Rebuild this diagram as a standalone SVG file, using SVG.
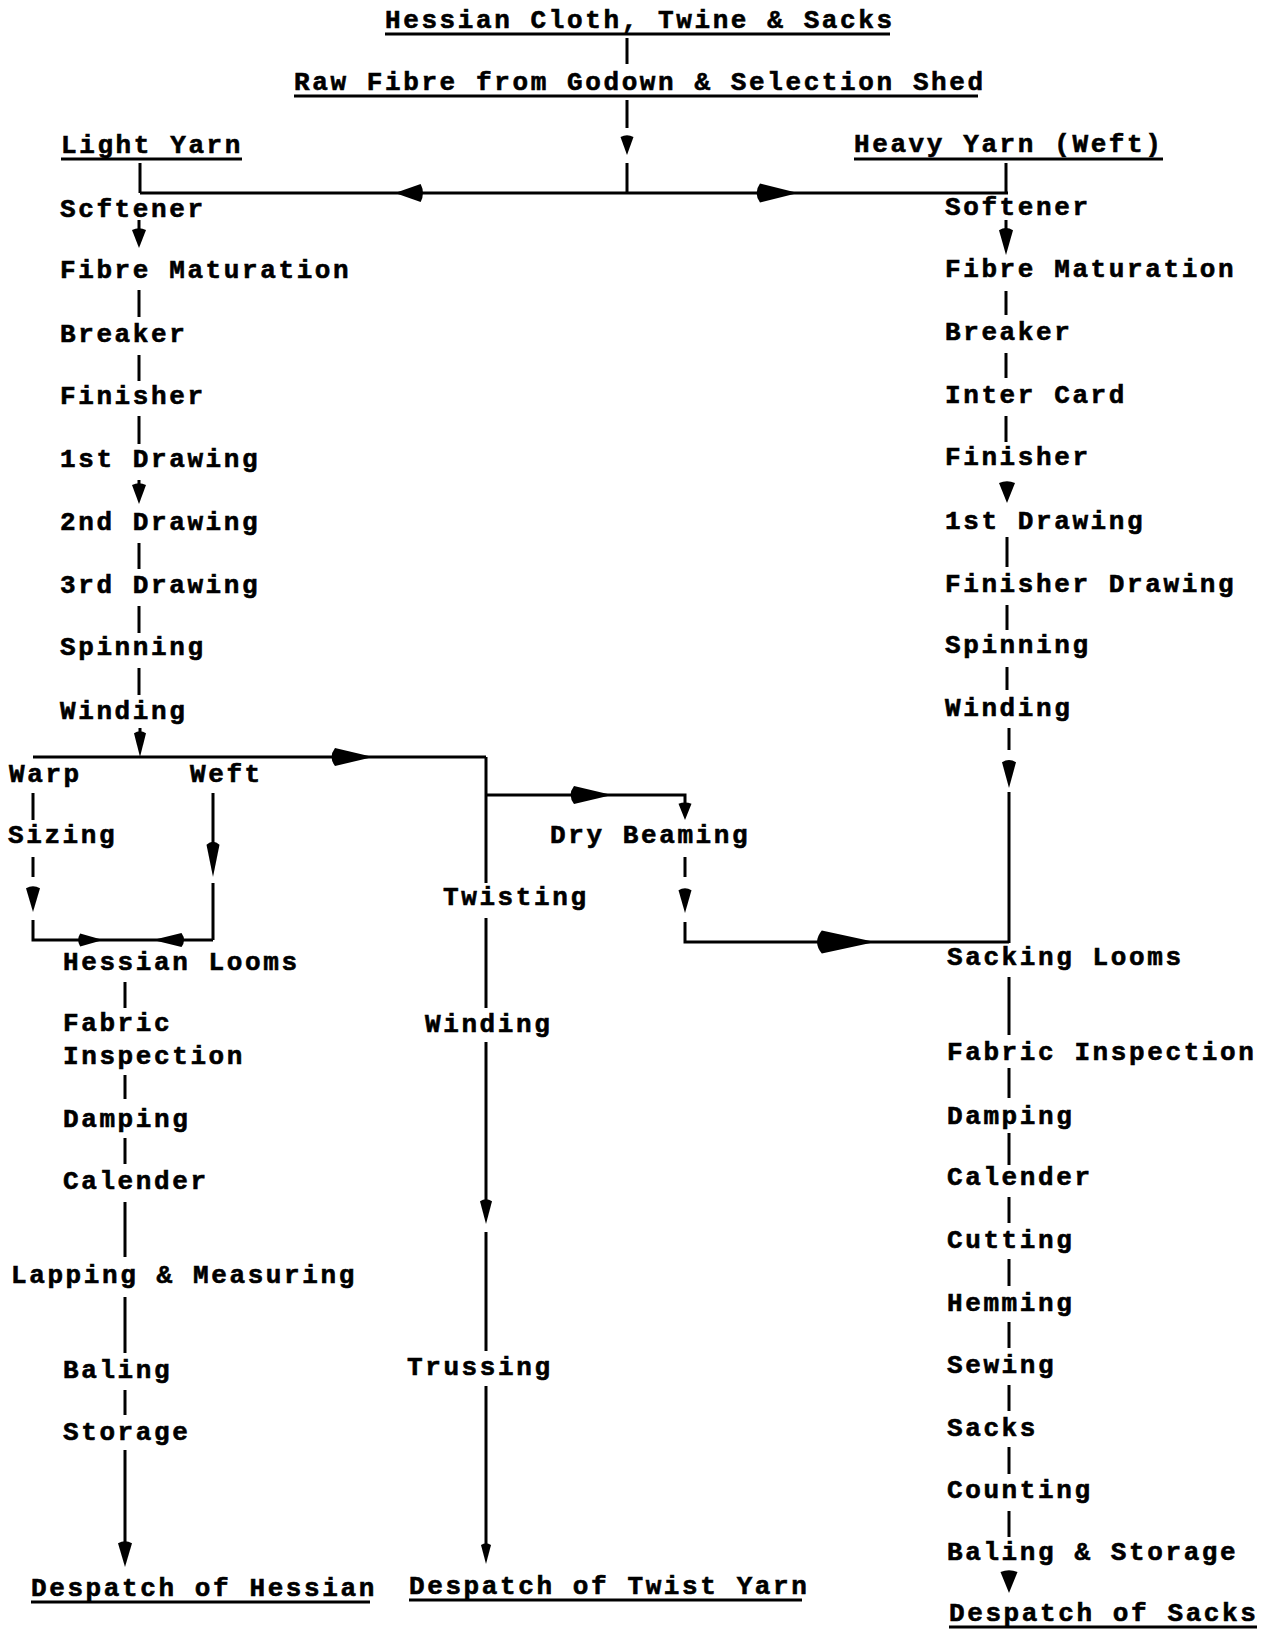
<svg xmlns="http://www.w3.org/2000/svg" xmlns:xlink="http://www.w3.org/1999/xlink" width="1275" height="1630" viewBox="0 0 1275 1630">
<style>
text{font-family:"Liberation Mono","Courier New",monospace;font-weight:bold;font-size:26px;letter-spacing:2.6px;fill:#000;stroke:#000;stroke-width:0.6px}
.ln{stroke:#000;stroke-width:3;fill:none}
.ul{stroke:#000;stroke-width:3}
.ah{fill:#000}
</style>
<defs>
<path id="ah" d="M0,0 L-0.95,-0.5 Q-1.12,0 -0.95,0.5 Z"/>
</defs>
<rect width="1275" height="1630" fill="#fff"/>

<g id="connectors">
<g class="ln">
<path d="M627,38V64M627,100V128M627,163V193M140,193H1008M140,163V193M1006,163V193"/>
<path d="M139,220V232M139,290V317M139,355V381M139,416V444M139,480V488M139,543V569M139,606V633M139,668V695M140,728V737"/>
<path d="M33,757H486M486,757V883M33,793V820M33,857V877M33,920V940H213M213,793V845M213,883V940"/>
<path d="M125,982V1008M125,1075V1099M125,1138V1164M125,1202V1257M125,1297V1353M125,1390V1415M125,1450V1545"/>
<path d="M486,918V1008M486,1042V1204M486,1232V1351M486,1386V1548"/>
<path d="M486,795H685V805M685,857V877M685,922V942H1009"/>
<path d="M1006,220V231M1006,291V315M1006,353V378M1006,416V442M1007,537V567M1007,605V630M1007,667V690M1009,728V750M1009,792V943"/>
<path d="M1009,977V1035M1009,1068V1098M1009,1133V1165M1009,1197V1223M1009,1259V1286M1009,1322V1348M1009,1385V1411M1009,1447V1474M1009,1511V1537"/>
</g>
<g class="ah">
<use xlink:href="#ah" transform="translate(627,155) rotate(90) scale(19,13)"/>
<use xlink:href="#ah" transform="translate(395,193) rotate(180) scale(27,18)"/>
<use xlink:href="#ah" transform="translate(798,193) scale(40,19)"/>
<use xlink:href="#ah" transform="translate(139,248) rotate(90) scale(19,14)"/>
<use xlink:href="#ah" transform="translate(139,504) rotate(90) scale(20,14)"/>
<use xlink:href="#ah" transform="translate(140,757) rotate(90) scale(25,12)"/>
<use xlink:href="#ah" transform="translate(373,757) scale(40,18)"/>
<use xlink:href="#ah" transform="translate(33,912) rotate(90) scale(25,14)"/>
<use xlink:href="#ah" transform="translate(103,940) scale(24,13)"/>
<use xlink:href="#ah" transform="translate(153,940) rotate(180) scale(30,14)"/>
<use xlink:href="#ah" transform="translate(213,877) rotate(90) scale(34,13)"/>
<use xlink:href="#ah" transform="translate(125,1567) rotate(90) scale(25,14)"/>
<use xlink:href="#ah" transform="translate(486,1224) rotate(90) scale(24,12)"/>
<use xlink:href="#ah" transform="translate(486,1564) rotate(90) scale(20,10)"/>
<use xlink:href="#ah" transform="translate(612,795) scale(40,18)"/>
<use xlink:href="#ah" transform="translate(685,820) rotate(90) scale(17,13)"/>
<use xlink:href="#ah" transform="translate(685,913) rotate(90) scale(24,13)"/>
<use xlink:href="#ah" transform="translate(875,942) scale(56,23)"/>
<use xlink:href="#ah" transform="translate(1006,255) rotate(90) scale(26,14)"/>
<use xlink:href="#ah" transform="translate(1007,503) rotate(90) scale(21,16)"/>
<use xlink:href="#ah" transform="translate(1009,788) rotate(90) scale(27,14)"/>
<use xlink:href="#ah" transform="translate(1009,1593) rotate(90) scale(22,17)"/>
</g>
</g>

<g id="n-title1"><text x="385" y="28">Hessian Cloth, Twine &amp; Sacks</text><line class="ul" x1="385" y1="34" x2="890" y2="34"/></g>
<g id="n-title2"><text x="294" y="90">Raw Fibre from Godown &amp; Selection Shed</text><line class="ul" x1="294" y1="96" x2="978" y2="96"/></g>
<g id="n-light"><text x="61" y="153">Light Yarn</text><line class="ul" x1="61" y1="159" x2="242" y2="159"/></g>
<g id="n-heavy"><text x="854" y="152">Heavy Yarn (Weft)</text><line class="ul" x1="854" y1="159" x2="1163" y2="159"/></g>

<g id="n-l-softener"><text x="60" y="217">Scftener</text></g>
<g id="n-l-fibre"><text x="60" y="278">Fibre Maturation</text></g>
<g id="n-l-breaker"><text x="60" y="342">Breaker</text></g>
<g id="n-l-finisher"><text x="60" y="404">Finisher</text></g>
<g id="n-l-draw1"><text x="60" y="467">1st Drawing</text></g>
<g id="n-l-draw2"><text x="60" y="530">2nd Drawing</text></g>
<g id="n-l-draw3"><text x="60" y="593">3rd Drawing</text></g>
<g id="n-l-spinning"><text x="60" y="655">Spinning</text></g>
<g id="n-l-winding"><text x="60" y="719">Winding</text></g>
<g id="n-warp"><text x="9" y="782">Warp</text></g>
<g id="n-weft"><text x="190" y="782">Weft</text></g>
<g id="n-sizing"><text x="8" y="843">Sizing</text></g>
<g id="n-hessian-looms"><text x="63" y="970">Hessian Looms</text></g>
<g id="n-l-fabric"><text x="63" y="1031">Fabric</text><text x="63" y="1064">Inspection</text></g>
<g id="n-l-damping"><text x="63" y="1127">Damping</text></g>
<g id="n-l-calender"><text x="63" y="1189">Calender</text></g>
<g id="n-lapping"><text x="11" y="1283">Lapping &amp; Measuring</text></g>
<g id="n-l-baling"><text x="63" y="1378">Baling</text></g>
<g id="n-l-storage"><text x="63" y="1440">Storage</text></g>
<g id="n-desp-hessian"><text x="31" y="1596">Despatch of Hessian</text><line class="ul" x1="31" y1="1602" x2="370" y2="1602"/></g>

<g id="n-twisting"><text x="443" y="905">Twisting</text></g>
<g id="n-m-winding"><text x="425" y="1032">Winding</text></g>
<g id="n-trussing"><text x="407" y="1375">Trussing</text></g>
<g id="n-desp-twist"><text x="409" y="1594">Despatch of Twist Yarn</text><line class="ul" x1="409" y1="1600" x2="802" y2="1600"/></g>
<g id="n-dry-beaming"><text x="550" y="843">Dry Beaming</text></g>

<g id="n-r-softener"><text x="945" y="215">Softener</text></g>
<g id="n-r-fibre"><text x="945" y="277">Fibre Maturation</text></g>
<g id="n-r-breaker"><text x="945" y="340">Breaker</text></g>
<g id="n-r-intercard"><text x="945" y="403">Inter Card</text></g>
<g id="n-r-finisher"><text x="945" y="465">Finisher</text></g>
<g id="n-r-draw1"><text x="945" y="529">1st Drawing</text></g>
<g id="n-r-findraw"><text x="945" y="592">Finisher Drawing</text></g>
<g id="n-r-spinning"><text x="945" y="653">Spinning</text></g>
<g id="n-r-winding"><text x="945" y="716">Winding</text></g>
<g id="n-sacking-looms"><text x="947" y="965">Sacking Looms</text></g>
<g id="n-r-fabric"><text x="947" y="1060">Fabric Inspection</text></g>
<g id="n-r-damping"><text x="947" y="1124">Damping</text></g>
<g id="n-r-calender"><text x="947" y="1185">Calender</text></g>
<g id="n-cutting"><text x="947" y="1248">Cutting</text></g>
<g id="n-hemming"><text x="947" y="1311">Hemming</text></g>
<g id="n-sewing"><text x="947" y="1373">Sewing</text></g>
<g id="n-sacks"><text x="947" y="1436">Sacks</text></g>
<g id="n-counting"><text x="947" y="1498">Counting</text></g>
<g id="n-r-baling"><text x="947" y="1560">Baling &amp; Storage</text></g>
<g id="n-desp-sacks"><text x="949" y="1621">Despatch of Sacks</text><line class="ul" x1="949" y1="1627" x2="1257" y2="1627"/></g>
</svg>
